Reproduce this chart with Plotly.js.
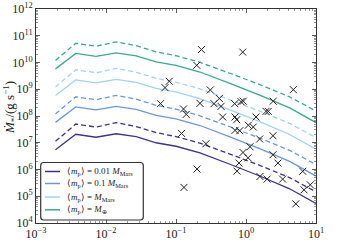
<!DOCTYPE html>
<html>
<head>
<meta charset="utf-8">
<script src="https://cdn.plot.ly/plotly-3.0.1.min.js"></script>
<style>html,body{margin:0;padding:0;background:#fff;}#chart{width:352px;height:244px;}</style>
</head>
<body>
<div id="chart"></div>
<script>
// semimajor axis grid of the model curves (AU)
const aModel = [0.0019, 0.0037, 0.0072, 0.014, 0.027, 0.052, 0.1, 0.22, 0.59, 1.6, 4.2, 10];

// model accretion rates (g/s), solid and dashed for each planet mass
const mdot001Solid  = [5.5e6, 2.08e7, 1.61e7, 2.17e7, 1.68e7, 1.0e7, 7.4e6, 4.2e6, 1.57e6, 5.6e5, 1.9e5, 5.4e4];
const mdot001Dashed = [1.13e7, 5.0e7, 3.86e7, 5.64e7, 4.03e7, 2.4e7, 1.7e7, 9.7e6, 3.77e6, 1.4e6, 4.94e5, 1.46e5];
const mdot01Solid   = [5.78e7, 2.18e8, 1.69e8, 2.28e8, 1.76e8, 1.05e8, 7.77e7, 4.41e7, 1.65e7, 5.88e6, 2.0e6, 5.67e5];
const mdot01Dashed  = [1.19e8, 5.25e8, 4.05e8, 5.92e8, 4.23e8, 2.52e8, 1.79e8, 1.02e8, 3.96e7, 1.47e7, 5.19e6, 1.53e6];
const mdotMarsSolid = [5.89e8, 2.23e9, 1.72e9, 2.32e9, 1.8e9, 1.07e9, 7.92e8, 4.49e8, 1.68e8, 5.99e7, 2.03e7, 5.78e6];
const mdotMarsDashed= [1.21e9, 5.35e9, 4.13e9, 6.03e9, 4.31e9, 2.57e9, 1.82e9, 1.04e9, 4.03e8, 1.5e8, 5.29e7, 1.56e7];
const mdotEarthSolid= [5.78e9, 2.18e10, 1.69e10, 2.28e10, 1.76e10, 1.05e10, 7.77e9, 4.41e9, 1.65e9, 5.88e8, 2.0e8, 5.67e7];
const mdotEarthDashed=[1.19e10, 5.25e10, 4.05e10, 5.92e10, 4.23e10, 2.52e10, 1.79e10, 1.02e10, 3.96e9, 1.47e9, 5.19e8, 1.53e8];

// observed systems
const aObs = [0.231, 0.898, 0.198, 0.080, 0.0697, 0.309, 4.74, 0.416, 0.0601, 0.220, 0.349, 0.44, 0.69, 0.849, 0.914, 2.45,
  0.128, 0.140, 1.93, 2.08, 0.464, 0.697, 0.736, 1.39, 1.08, 1.27, 0.697, 0.815, 0.120, 0.268, 1.57, 2.43,
  1.14, 0.906, 1.07, 2.43, 2.86, 0.794, 0.743, 0.2, 0.130, 1.58, 2.0, 3.34, 6.46, 8.29, 6.74, 5.15];
const mdotObs = [3.04e10, 2.45e10, 7.85e9, 1.98e9, 1.15e9, 9.4e8, 9.67e8, 4.52e8, 2.89e8, 2.97e8, 2.89e8, 2.29e8, 2.89e8, 3.43e8, 3.58e8, 3.58e8,
  1.83e8, 1.15e8, 1.49e8, 1.49e8, 9.2e7, 9.2e7, 7.27e7, 9.2e7, 4.52e7, 3.87e7, 2.89e7, 2.82e7, 2.23e7, 9.2e6, 1.38e7, 1.83e7,
  7.08e6, 4.33e6, 2.74e6, 3.56e6, 1.74e6, 1.74e6, 8.7e5, 1.04e6, 2.14e5, 5.47e5, 4.37e5, 4.37e5, 8.57e5, 2.67e5, 1.74e5, 5.19e4];

const legendLabels = [
  '⟨<i>m</i><sub>p</sub>⟩ = 0.01 <i>M</i><sub>Mars</sub>',
  '⟨<i>m</i><sub>p</sub>⟩ = 0.1 <i>M</i><sub>Mars</sub>',
  '⟨<i>m</i><sub>p</sub>⟩ = <i>M</i><sub>Mars</sub>',
  '⟨<i>m</i><sub>p</sub>⟩ = <i>M</i><sub>⊕</sub>'
];
const colors = ['#3f3290', '#6a9ad3', '#9fd4f2', '#3aaa8c'];

const xTickVals = [1e-3, 1e-2, 1e-1, 1, 10];
const xTickText = ['10<sup>−3</sup>', '10<sup>−2</sup>', '10<sup>−1</sup>', '10<sup>0</sup>', '10<sup>1</sup>'];
const yTickVals = [1e4, 1e5, 1e6, 1e7, 1e8, 1e9, 1e10, 1e11, 1e12];
const yTickText = ['10<sup>4</sup>', '10<sup>5</sup>', '10<sup>6</sup>', '10<sup>7</sup>', '10<sup>8</sup>', '10<sup>9</sup>', '10<sup>10</sup>', '10<sup>11</sup>', '10<sup>12</sup>'];

function minorVals(e0, e1) {
  const out = [];
  for (let e = e0; e < e1; e++) for (let k = 2; k <= 9; k++) out.push(k * Math.pow(10, e));
  return out;
}

const solids = [mdot001Solid, mdot01Solid, mdotMarsSolid, mdotEarthSolid];
const dasheds = [mdot001Dashed, mdot01Dashed, mdotMarsDashed, mdotEarthDashed];
const traces = [];
for (let i = 0; i < 4; i++) {
  traces.push({x: aModel, y: dasheds[i], mode: 'lines', line: {color: colors[i], width: 1.3, dash: '5px,3px'}, showlegend: false, hoverinfo: 'skip'});
  traces.push({x: aModel, y: solids[i], mode: 'lines', line: {color: colors[i], width: 1.3}, showlegend: false, hoverinfo: 'skip'});
}
traces.push({x: aObs, y: mdotObs, mode: 'markers', marker: {symbol: 'x-thin', size: 7, color: '#222', line: {width: 1, color: '#222'}}, showlegend: false});

// custom legend (paper coordinates)
const W = 280, H = 214;
const px = v => v / W, py = v => 1 - v / H;
const bx0 = px(4.7), bx1 = px(107.3), by0 = py(153.5), by1 = py(211);
const rx = px(3), ry = 3 / H;
const shapes = [{
  type: 'path', xref: 'paper', yref: 'paper',
  path: `M ${bx0 + rx},${by0} L ${bx1 - rx},${by0} Q ${bx1},${by0} ${bx1},${by0 - ry} L ${bx1},${by1 + ry} Q ${bx1},${by1} ${bx1 - rx},${by1} L ${bx0 + rx},${by1} Q ${bx0},${by1} ${bx0},${by1 + ry} L ${bx0},${by0 - ry} Q ${bx0},${by0} ${bx0 + rx},${by0} Z`,
  line: {color: '#333', width: 1.2}, fillcolor: 'rgba(255,255,255,0.85)', layer: 'above'
}];
const annotations = [];
const rowsY = [162.5, 174.5, 188, 200.8];
for (let i = 0; i < 4; i++) {
  shapes.push({type: 'line', xref: 'paper', yref: 'paper', x0: px(9), x1: px(24), y0: py(rowsY[i]), y1: py(rowsY[i]), line: {color: colors[i], width: 1.5}, layer: 'above'});
  annotations.push({xref: 'paper', yref: 'paper', x: px(29), y: py(rowsY[i]), xanchor: 'left', yanchor: 'middle', showarrow: false, text: legendLabels[i], font: {family: 'Liberation Serif, serif', size: 9, color: '#222'}});
}
// axis titles (x title sits at the bottom edge, as in the reference)
annotations.push({xref: 'paper', yref: 'paper', x: 0.5, y: -0.11, xanchor: 'center', yanchor: 'top', showarrow: false, text: '<i>a</i><sub>p</sub>/AU', font: {family: 'Liberation Serif, serif', size: 12, color: '#222'}});
annotations.push({xref: 'paper', yref: 'paper', x: px(-26), y: py(99), xanchor: 'center', yanchor: 'middle', textangle: -90, showarrow: false, text: '<i>Ṁ</i><sub>*</sub>/(g s<sup>−1</sup>)', font: {family: 'Liberation Serif, serif', size: 13, color: '#222'}});

const axisCommon = {
  type: 'log', showgrid: false, zeroline: false, showline: true, linecolor: '#333', linewidth: 1,
  mirror: 'allticks', ticks: 'inside', ticklen: 4, tickwidth: 0.8, tickcolor: '#333',
  tickfont: {family: 'Liberation Serif, serif', size: 12, color: '#222'}, tickmode: 'array'
};

const layout = {
  width: 352, height: 244,
  margin: {l: 36, r: 36, t: 9, b: 21, pad: 0},
  paper_bgcolor: '#fff', plot_bgcolor: '#fff',
  showlegend: false,
  xaxis: Object.assign({}, axisCommon, {range: [-3, 1], tickvals: xTickVals, ticktext: xTickText,
    minor: {tickmode: 'array', tickvals: minorVals(-3, 1), ticks: 'inside', ticklen: 2, tickwidth: 0.6, tickcolor: '#555', showgrid: false}}),
  yaxis: Object.assign({}, axisCommon, {range: [4, 12], tickvals: yTickVals, ticktext: yTickText,
    minor: {tickmode: 'array', tickvals: minorVals(4, 12), ticks: 'inside', ticklen: 2, tickwidth: 0.6, tickcolor: '#555', showgrid: false}}),
  shapes: shapes,
  annotations: annotations
};

Plotly.newPlot('chart', traces, layout, {staticPlot: true, displayModeBar: false});
</script>
</body>
</html>
